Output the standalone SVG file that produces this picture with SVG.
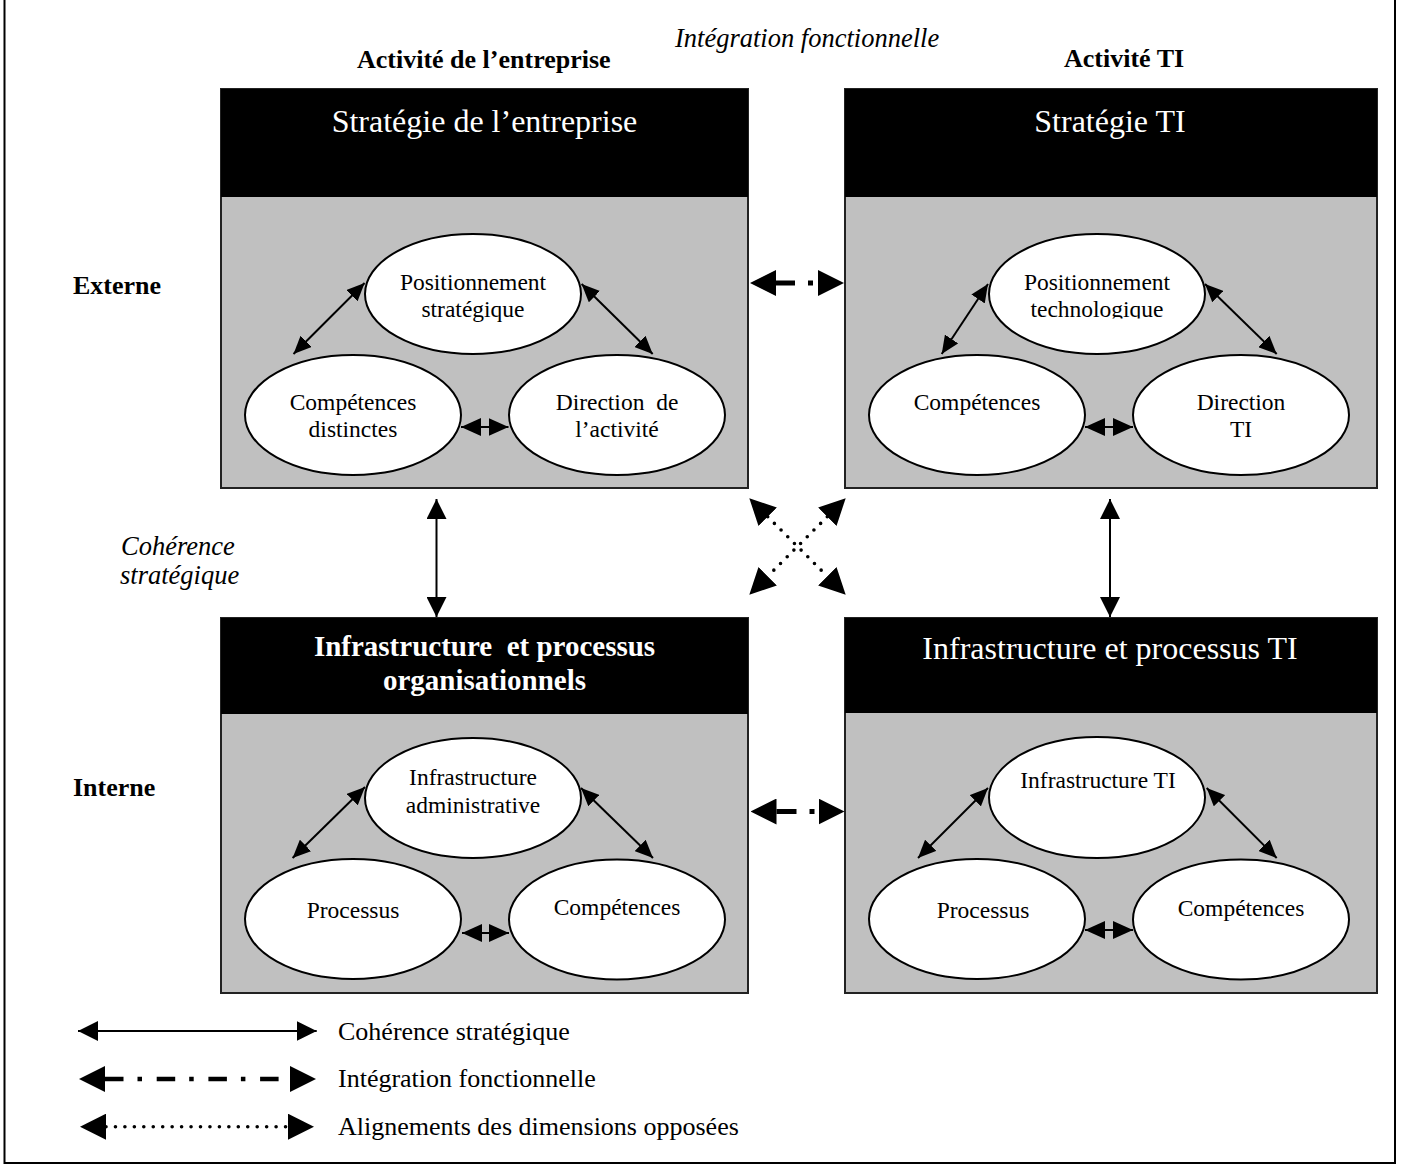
<svg xmlns="http://www.w3.org/2000/svg" width="1402" height="1167" viewBox="0 0 1402 1167">
<style>
text{font-family:"Liberation Serif","Times New Roman",serif;fill:#000}
.hd{font-size:32px;fill:#fff;text-anchor:middle}
.hdb{font-size:29px;font-weight:bold;fill:#fff;text-anchor:middle}
.el{font-size:23.5px;text-anchor:middle}
.lab{font-size:26px;font-weight:bold}
.it{font-size:26.5px;font-style:italic}
.leg{font-size:26px}
.gray{fill:#c0c0c0;stroke:#222;stroke-width:2}
.blk{fill:#000}
.ell{fill:#fff;stroke:#000;stroke-width:2}
.sol{fill:none;stroke:#000;stroke-width:2}
.dd{fill:none;stroke:#000;stroke-width:5}
.dot{fill:none;stroke:#000;stroke-width:3.6;stroke-linecap:round;stroke-dasharray:0 9.45}
</style>
<defs>
<marker id="hs" viewBox="0 0 18 16" refX="18" refY="8" markerWidth="18" markerHeight="16" markerUnits="userSpaceOnUse" orient="auto-start-reverse"><path d="M0,0 L18,8 L0,16 z"/></marker>
<marker id="hv" viewBox="0 0 20 20" refX="20" refY="10" markerWidth="20" markerHeight="20" markerUnits="userSpaceOnUse" orient="auto-start-reverse"><path d="M0,0 L20,10 L0,20 z"/></marker>
<marker id="hm" viewBox="0 0 20 18" refX="20" refY="9" markerWidth="20" markerHeight="18" markerUnits="userSpaceOnUse" orient="auto-start-reverse"><path d="M0,0 L20,9 L0,18 z"/></marker>
<marker id="hb" viewBox="0 0 26 26" refX="0" refY="13" markerWidth="26" markerHeight="26" markerUnits="userSpaceOnUse" orient="auto-start-reverse"><path d="M0,0 L26,13 L0,26 z"/></marker>
<clipPath id="cliptech"><rect x="980" y="230" width="240" height="88.5"/></clipPath>
</defs>

<path d="M4.5,0 V1163 H1395 V0" fill="none" stroke="#000" stroke-width="2"/>

<g id="labels">
<text class="lab" x="357" y="68">Activité de l’entreprise</text>
<text class="it" x="675" y="47">Intégration fonctionnelle</text>
<text class="lab" x="1064" y="67">Activité TI</text>
<text class="lab" x="73" y="294">Externe</text>
<text class="lab" x="73" y="796">Interne</text>
<text class="it" x="121" y="555">Cohérence</text>
<text class="it" x="120" y="584">stratégique</text>
</g>

<g id="box-strategie-entreprise">
<rect class="gray" x="221" y="89" width="527" height="399"/>
<rect class="blk" x="221" y="89" width="527" height="108"/>
<text class="hd" x="484.5" y="132">Stratégie de l’entreprise</text>
<g id="n-positionnement-strategique"><ellipse class="ell" cx="473" cy="294" rx="108" ry="60"/><text class="el" x="473" y="290">Positionnement</text><text class="el" x="473" y="317">stratégique</text></g>
<g id="n-competences-distinctes"><ellipse class="ell" cx="353" cy="415" rx="108" ry="60"/><text class="el" x="353" y="410">Compétences</text><text class="el" x="353" y="437">distinctes</text></g>
<g id="n-direction-activite"><ellipse class="ell" cx="617" cy="415" rx="108" ry="60"/><text class="el" x="617" y="410" xml:space="preserve">Direction  de</text><text class="el" x="617" y="437">l’activité</text></g>
</g>

<g id="box-strategie-ti">
<rect class="gray" x="845" y="89" width="532" height="399"/>
<rect class="blk" x="845" y="89" width="532" height="108"/>
<text class="hd" x="1110" y="132">Stratégie TI</text>
<g id="n-positionnement-technologique"><ellipse class="ell" cx="1097" cy="294" rx="108" ry="60"/><text class="el" x="1097" y="290">Positionnement</text><text class="el" x="1097" y="317" clip-path="url(#cliptech)">technologique</text></g>
<g id="n-competences-ti"><ellipse class="ell" cx="977" cy="415" rx="108" ry="60"/><text class="el" x="977" y="410">Compétences</text></g>
<g id="n-direction-ti"><ellipse class="ell" cx="1241" cy="415" rx="108" ry="60"/><text class="el" x="1241" y="410">Direction</text><text class="el" x="1241" y="437">TI</text></g>
</g>

<g id="box-infra-org">
<rect class="gray" x="221" y="618" width="527" height="375"/>
<rect class="blk" x="221" y="618" width="527" height="96"/>
<text class="hdb" x="484.5" y="656" xml:space="preserve">Infrastructure  et processus</text>
<text class="hdb" x="484.5" y="690">organisationnels</text>
<g id="n-infra-admin"><ellipse class="ell" cx="473" cy="798" rx="108" ry="60"/><text class="el" x="473" y="785">Infrastructure</text><text class="el" x="473" y="813">administrative</text></g>
<g id="n-processus-org"><ellipse class="ell" cx="353" cy="919" rx="108" ry="60"/><text class="el" x="353" y="918">Processus</text></g>
<g id="n-competences-org"><ellipse class="ell" cx="617" cy="919.5" rx="108" ry="60"/><text class="el" x="617" y="915">Compétences</text></g>
</g>

<g id="box-infra-ti">
<rect class="gray" x="845" y="618" width="532" height="375"/>
<rect class="blk" x="845" y="618" width="532" height="95"/>
<text class="hd" x="1110" y="659">Infrastructure et processus TI</text>
<g id="n-infra-ti"><ellipse class="ell" cx="1097" cy="797.5" rx="108" ry="60.5"/><text class="el" x="1098" y="788">Infrastructure TI</text></g>
<g id="n-processus-ti"><ellipse class="ell" cx="977" cy="919" rx="108" ry="60"/><text class="el" x="983" y="918">Processus</text></g>
<g id="n-competences-ti2"><ellipse class="ell" cx="1241" cy="919.5" rx="108" ry="60"/><text class="el" x="1241" y="916">Compétences</text></g>
</g>

<g id="connectors">
<path class="sol" d="M293.5,354 L364.6,283" marker-start="url(#hs)" marker-end="url(#hs)"/>
<path class="sol" d="M581.6,284 L652.7,354" marker-start="url(#hs)" marker-end="url(#hs)"/>
<path class="sol" d="M461,427 H508.5" marker-start="url(#hm)" marker-end="url(#hm)"/>
<path class="sol" d="M941.7,354 L988,284" marker-start="url(#hs)" marker-end="url(#hs)"/>
<path class="sol" d="M1205,284 L1276.7,354" marker-start="url(#hs)" marker-end="url(#hs)"/>
<path class="sol" d="M1085,427 H1133" marker-start="url(#hm)" marker-end="url(#hm)"/>
<path class="sol" d="M292.6,858 L365,787" marker-start="url(#hs)" marker-end="url(#hs)"/>
<path class="sol" d="M581,788 L653,858" marker-start="url(#hs)" marker-end="url(#hs)"/>
<path class="sol" d="M462,933 H509" marker-start="url(#hm)" marker-end="url(#hm)"/>
<path class="sol" d="M918,858 L988,788" marker-start="url(#hs)" marker-end="url(#hs)"/>
<path class="sol" d="M1206.7,788 L1276.7,858" marker-start="url(#hs)" marker-end="url(#hs)"/>
<path class="sol" d="M1085,930 H1133" marker-start="url(#hm)" marker-end="url(#hm)"/>

<path class="sol" d="M436.5,499 V617" marker-start="url(#hv)" marker-end="url(#hv)"/>
<path class="sol" d="M1110,499 V617" marker-start="url(#hv)" marker-end="url(#hv)"/>

<path class="dd" d="M776,283 H818" stroke-dasharray="19 13 5 100" marker-start="url(#hb)" marker-end="url(#hb)"/>
<path class="dd" d="M776.5,811.5 H818.5" stroke-dasharray="20 13 5 100" marker-start="url(#hb)" marker-end="url(#hb)"/>

<path class="dot" d="M767.7,516.7 L827.3,576.3" marker-start="url(#hb)" marker-end="url(#hb)"/>
<path class="dot" d="M827.3,516.7 L767.7,576.3" marker-start="url(#hb)" marker-end="url(#hb)"/>
</g>

<g id="legend">
<path class="sol" d="M78,1031 H316.7" marker-start="url(#hv)" marker-end="url(#hv)"/>
<path fill="none" stroke="#000" stroke-width="4.5" d="M105,1079 H290" stroke-dasharray="18.5 14 4.5 14.7" marker-start="url(#hb)" marker-end="url(#hb)"/>
<path class="dot" d="M106,1126.7 H288" marker-start="url(#hb)" marker-end="url(#hb)"/>
<text class="leg" x="338" y="1040">Cohérence stratégique</text>
<text class="leg" x="338" y="1087">Intégration fonctionnelle</text>
<text class="leg" x="338" y="1135">Alignements des dimensions opposées</text>
</g>
</svg>
